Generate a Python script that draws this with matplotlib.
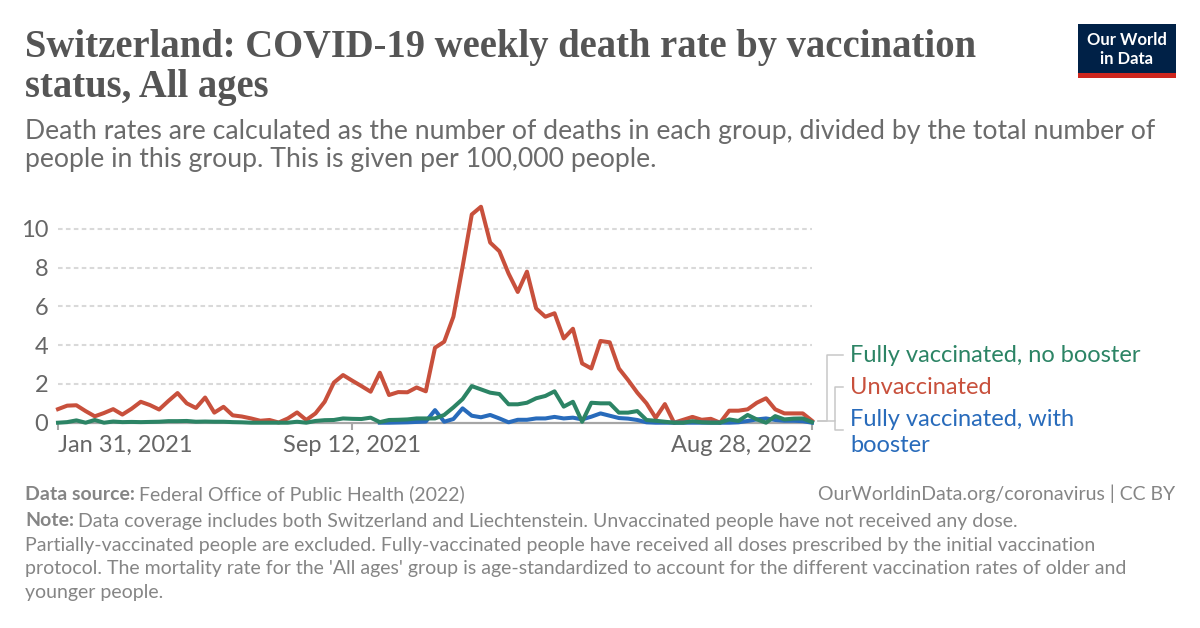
import matplotlib
matplotlib.use("Agg")
import matplotlib.pyplot as plt
from matplotlib.lines import Line2D
from matplotlib.patches import Rectangle
import numpy as np
import pandas as pd

# ---------------- data ----------------
weeks = pd.date_range("2021-01-31", "2022-08-28", freq="7D")

unvaccinated = [
    0.70, 0.88, 0.90, 0.60, 0.33, 0.50, 0.70, 0.42, 0.72, 1.08,
    0.91, 0.68, 1.12, 1.53, 1.00, 0.76, 1.30, 0.52, 0.82, 0.38,
    0.32, 0.22, 0.10, 0.14, 0.01, 0.22, 0.53, 0.14, 0.48, 1.08,
    2.07, 2.46, 2.17, 1.89, 1.60, 2.58, 1.43, 1.58, 1.57, 1.82,
    1.62, 3.87, 4.18, 5.47, 8.05, 10.75, 11.15, 9.30, 8.85, 7.70,
    6.75, 7.80, 5.90, 5.47, 5.65, 4.35, 4.85, 3.06, 2.80, 4.22,
    4.15, 2.80, 2.20, 1.55, 1.00, 0.25, 0.96, 0.00, 0.15, 0.30,
    0.15, 0.20, 0.00, 0.62, 0.62, 0.69, 1.03, 1.26, 0.69, 0.48,
    0.48, 0.48, 0.10,
]

no_booster = [
    0.00, 0.03, 0.12, 0.00, 0.14, 0.00, 0.06, 0.03, 0.04, 0.03,
    0.04, 0.05, 0.08, 0.08, 0.09, 0.05, 0.06, 0.05, 0.05, 0.03,
    0.02, 0.00, 0.00, 0.00, 0.00, 0.00, 0.05, 0.00, 0.09, 0.13,
    0.14, 0.22, 0.20, 0.19, 0.26, 0.03, 0.14, 0.15, 0.17, 0.22,
    0.22, 0.22, 0.40, 0.79, 1.22, 1.89, 1.72, 1.55, 1.48, 0.95,
    0.95, 1.03, 1.26, 1.38, 1.62, 0.83, 1.08, 0.05, 1.03, 1.00,
    1.00, 0.52, 0.52, 0.60, 0.14, 0.10, 0.05, 0.00, 0.00, 0.08,
    0.02, 0.00, 0.00, 0.17, 0.09, 0.40, 0.17, 0.00, 0.34, 0.17,
    0.21, 0.22, 0.03,
]

with_booster = [np.nan] * 35 + [
    0.00, 0.00, 0.01, 0.02, 0.04,
    0.06, 0.65, 0.05, 0.19, 0.74, 0.36, 0.28, 0.40, 0.22, 0.02,
    0.15, 0.15, 0.22, 0.22, 0.30, 0.22, 0.26, 0.17, 0.31, 0.48,
    0.36, 0.24, 0.21, 0.14, 0.02, 0.00, 0.00, 0.00, 0.00, 0.00,
    0.00, 0.00, 0.00, 0.00, 0.02, 0.09, 0.17, 0.22, 0.14, 0.10,
    0.10, 0.08, 0.00,
]

y_ticks = [0, 2, 4, 6, 8, 10]
x_tick_dates = pd.to_datetime(["2021-01-31", "2021-09-12", "2022-08-28"])
x_tick_labels = ["Jan 31, 2021", "Sep 12, 2021", "Aug 28, 2022"]

series_names = ["Unvaccinated", "Fully vaccinated, no booster", "Fully vaccinated, with booster"]
series_colors = {"Unvaccinated": "#C8503C",
                 "Fully vaccinated, no booster": "#2C8465",
                 "Fully vaccinated, with booster": "#286BBB"}

title_lines = ["Switzerland: COVID-19 weekly death rate by vaccination",
               "status, All ages"]
subtitle_lines = ["Death rates are calculated as the number of deaths in each group, divided by the total number of",
                  "people in this group. This is given per 100,000 people."]

# ---------------- figure ----------------
W, H = 1200, 628
fig = plt.figure(figsize=(W / 100, H / 100), dpi=100)
fig.patch.set_facecolor("white")

def fx(x):
    return x / W

def fy(y):
    return 1 - y / H

SANS = ["Lato", "DejaVu Sans"]
SERIF = ["Liberation Serif", "DejaVu Serif"]
GREY_TXT = "#666666"
AXFS = 17
LW = 2.9

# axes: x from 58 to 812 px, y=0 at 422.7 px, 19.37 px per unit
ymax = 11.2
y0_px, per_unit = 422.7, 19.37
top_px = y0_px - ymax * per_unit
ax = fig.add_axes([fx(58), fy(y0_px), fx(812) - fx(58), (y0_px - top_px) / H])
ax.set_xlim(weeks[0], weeks[-1])
ax.set_ylim(0, ymax)
for s in ax.spines.values():
    s.set_visible(False)
ax.set_facecolor("none")

for yt in y_ticks[1:]:
    ax.axhline(yt, color="#d9d9d9", lw=1.5, ls=(0, (2.2, 1.6)), zorder=0)
ax.axhline(0, color="#a6a6a6", lw=1.6, zorder=1, clip_on=False)

ax.plot(weeks, unvaccinated, color=series_colors["Unvaccinated"], lw=LW,
        clip_on=False, zorder=3)
ax.plot(weeks, with_booster, color=series_colors["Fully vaccinated, with booster"], lw=LW,
        clip_on=False, zorder=4)
ax.plot(weeks, no_booster, color=series_colors["Fully vaccinated, no booster"], lw=LW,
        clip_on=False, zorder=5)

ax.set_yticks(y_ticks)
ax.set_yticklabels([str(v) for v in y_ticks], family=SANS, fontsize=AXFS, color=GREY_TXT)
ax.tick_params(axis="y", length=0, pad=7)

ax.set_xticks(x_tick_dates)
ax.set_xticklabels(x_tick_labels, family=SANS, fontsize=AXFS, color=GREY_TXT)
ax.tick_params(axis="x", length=5, width=1.5, color="#a6a6a6", pad=4)
labs = ax.get_xticklabels()
labs[0].set_ha("left")
labs[1].set_ha("center")
labs[2].set_ha("right")

# ---------------- legend labels with connectors ----------------
lab_x = 850
fig.text(fx(lab_x), fy(356), series_names[1], family=SANS, fontsize=AXFS,
         color=series_colors[series_names[1]], va="center", ha="left")
fig.text(fx(lab_x), fy(388), series_names[0], family=SANS, fontsize=AXFS,
         color=series_colors[series_names[0]], va="center", ha="left")
fig.text(fx(lab_x), fy(420), "Fully vaccinated, with", family=SANS, fontsize=AXFS,
         color=series_colors[series_names[2]], va="center", ha="left")
fig.text(fx(lab_x), fy(445), "booster", family=SANS, fontsize=AXFS,
         color=series_colors[series_names[2]], va="center", ha="left")

conn = "#c8c8c8"
def fline(xs, ys):
    fig.add_artist(Line2D([fx(v) for v in xs], [fy(v) for v in ys], color=conn, lw=1.1))

fline([818, 827, 827, 843], [421, 421, 355, 355])
fline([818, 835, 835, 843], [421, 421, 387, 387])
fline([835, 835, 843], [421, 430, 430])

# ---------------- titles ----------------
fig.text(fx(25), fy(47), title_lines[0], family=SERIF, fontsize=27.8, weight="bold",
         color="#555555", va="center", ha="left")
fig.text(fx(25), fy(87), title_lines[1], family=SERIF, fontsize=27.8, weight="bold",
         color="#555555", va="center", ha="left")
fig.text(fx(25), fy(131), subtitle_lines[0], family=SANS, fontsize=19.2,
         color="#6b6b6b", va="center", ha="left")
fig.text(fx(25), fy(160), subtitle_lines[1], family=SANS, fontsize=19.2,
         color="#6b6b6b", va="center", ha="left")

# ---------------- logo ----------------
fig.add_artist(Rectangle((fx(1078), fy(73)), fx(1176) - fx(1078), fy(24) - fy(73),
                         transform=fig.transFigure, facecolor="#002147", edgecolor="none"))
fig.add_artist(Rectangle((fx(1078), fy(78)), fx(1176) - fx(1078), fy(73) - fy(78),
                         transform=fig.transFigure, facecolor="#CE261E", edgecolor="none"))
fig.text(fx(1127), fy(40), "Our World", family=SANS, fontsize=12, weight="bold",
         color="white", ha="center", va="center")
fig.text(fx(1127), fy(59), "in Data", family=SANS, fontsize=12, weight="bold",
         color="white", ha="center", va="center")

# ---------------- footer ----------------
FOOT = "#858585"
FS = 14
renderer = fig.canvas.get_renderer()

def label_pair(x, y, bold, rest):
    t = fig.text(fx(x), fy(y), bold, family=SANS, fontsize=FS, weight="bold",
                 color=FOOT, ha="left", va="center")
    bb = t.get_window_extent(renderer=renderer)
    fig.text(bb.x1 / W + 4 / W, fy(y), rest, family=SANS, fontsize=FS,
             color=FOOT, ha="left", va="center")

label_pair(25, 494, "Data source:", "Federal Office of Public Health (2022)")
fig.text(fx(1175), fy(494), "OurWorldinData.org/coronavirus | CC BY", family=SANS,
         fontsize=FS, color=FOOT, ha="right", va="center")
label_pair(25, 521, "Note:", "Data coverage includes both Switzerland and Liechtenstein. "
           "Unvaccinated people have not received any dose.")
note_lines = [
    "Partially-vaccinated people are excluded. Fully-vaccinated people have received all doses prescribed by the initial vaccination",
    "protocol. The mortality rate for the 'All ages' group is age-standardized to account for the different vaccination rates of older and",
    "younger people.",
]
for k, line in enumerate(note_lines):
    fig.text(fx(25), fy(545 + 23.7 * k), line, family=SANS, fontsize=FS,
             color=FOOT, ha="left", va="center")

fig.savefig("out.png", dpi=100, facecolor="white")
